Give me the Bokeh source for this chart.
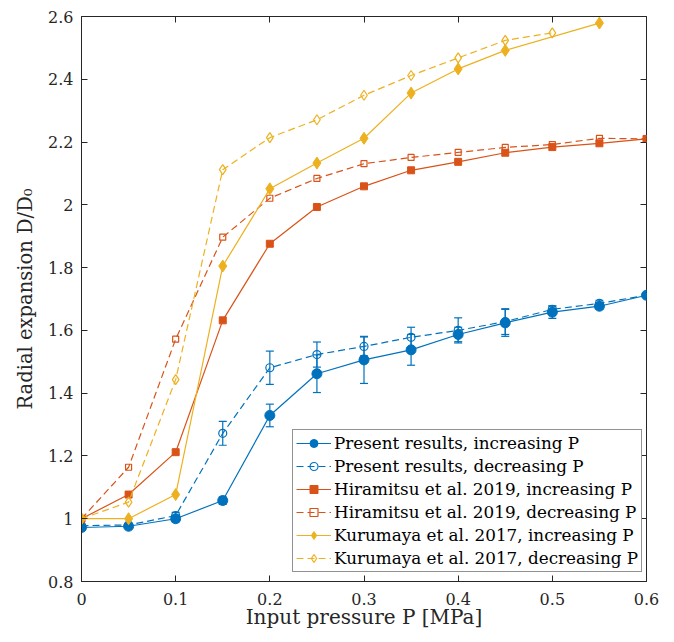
from bokeh.plotting import figure
from bokeh.models import Range1d, LinearAxis, FixedTicker, Legend, LegendItem, CustomJSTickFormatter
from bokeh.embed import file_html
from bokeh.resources import INLINE

# ---- data ----
P = [0, 0.05, 0.1, 0.15, 0.2, 0.25, 0.3, 0.35, 0.4, 0.45, 0.5, 0.55, 0.6]
present_inc = [0.972, 0.976, 1.000, 1.058, 1.329, 1.462, 1.506, 1.538, 1.587, 1.624, 1.658, 1.677, 1.712]
present_inc_err = [0.005, 0.005, 0.010, 0.012, 0.036, 0.060, 0.075, 0.049, 0.023, 0.043, 0.020, 0.010, 0.005]
present_dec = [0.978, 0.980, 1.010, 1.272, 1.481, 1.523, 1.549, 1.578, 1.600, 1.628, 1.667, 1.686, 1.712]
present_dec_err = [0.005, 0.005, 0.010, 0.038, 0.053, 0.040, 0.030, 0.032, 0.040, 0.041, 0.010, 0.010, 0.005]

hira_inc = [1.0, 1.077, 1.212, 1.632, 1.876, 1.993, 2.059, 2.110, 2.137, 2.166, 2.184, 2.196, 2.210]
hira_dec = [1.0, 1.164, 1.572, 1.897, 2.021, 2.084, 2.131, 2.151, 2.167, 2.183, 2.192, 2.212, 2.210]

kuru_inc_P = [0, 0.05, 0.1, 0.15, 0.2, 0.25, 0.3, 0.35, 0.4, 0.45, 0.55]
kuru_inc = [1.0, 1.0, 1.077, 1.805, 2.051, 2.133, 2.212, 2.356, 2.433, 2.492, 2.579]
kuru_dec_P = [0, 0.05, 0.1, 0.15, 0.2, 0.25, 0.3, 0.35, 0.4, 0.45, 0.5]
kuru_dec = [1.0, 1.053, 1.443, 2.112, 2.214, 2.271, 2.349, 2.412, 2.468, 2.524, 2.548]

x_ticks = [0, 0.1, 0.2, 0.3, 0.4, 0.5, 0.6]
x_tick_labels = ["0", "0.1", "0.2", "0.3", "0.4", "0.5", "0.6"]
y_ticks = [0.8, 1.0, 1.2, 1.4, 1.6, 1.8, 2.0, 2.2, 2.4, 2.6]
y_tick_labels = ["0.8", "1", "1.2", "1.4", "1.6", "1.8", "2", "2.2", "2.4", "2.6"]

labels = [
    "Present results, increasing P",
    "Present results, decreasing P",
    "Hiramitsu et al. 2019, increasing P",
    "Hiramitsu et al. 2019, decreasing P",
    "Kurumaya et al. 2017, increasing P",
    "Kurumaya et al. 2017, decreasing P",
]

BLUE = "#0072BD"
ORANGE = "#D95319"
YELLOW = "#EDB120"
AX = "#262626"
FONT = "DejaVu Serif"
DASH = "7 4"
LW = 1.2

p = figure(width=670, height=640, output_backend="svg", toolbar_location=None,
           x_range=Range1d(0, 0.6), y_range=Range1d(0.8, 2.6),
           min_border_left=81, min_border_right=24, min_border_top=16, min_border_bottom=59)
p.grid.visible = False
p.outline_line_color = AX
p.outline_line_width = 1
p.background_fill_color = "white"
p.border_fill_color = "white"

def style_axis(ax, ticks, lab):
    ax.ticker = FixedTicker(ticks=ticks)
    ax.major_label_overrides = {t: l for t, l in zip(ticks, lab)}
    ax.major_tick_in = 6
    ax.major_tick_out = 0
    ax.minor_tick_line_color = None
    ax.major_tick_line_color = AX
    ax.axis_line_color = AX
    ax.major_label_text_font = FONT
    ax.major_label_text_font_size = "16px"
    ax.major_label_text_color = AX
    ax.axis_label_text_font = FONT
    ax.axis_label_text_font_style = "normal"
    ax.axis_label_text_color = AX

style_axis(p.xaxis[0], x_ticks, x_tick_labels)
style_axis(p.yaxis[0], y_ticks, y_tick_labels)
p.xaxis[0].axis_label = "Input pressure P [MPa]"
p.yaxis[0].axis_label = "Radial expansion D/D\u2080"
p.xaxis[0].axis_label_text_font_size = "20px"
p.yaxis[0].axis_label_text_font_size = "19.5px"
p.xaxis[0].major_label_standoff = 11
p.yaxis[0].major_label_standoff = 8
p.xaxis[0].axis_label_standoff = -3
p.yaxis[0].axis_label_standoff = 8

blank = CustomJSTickFormatter(code="return ''")
top = LinearAxis(ticker=FixedTicker(ticks=x_ticks), formatter=blank, major_tick_in=6, major_tick_out=0,
                 minor_tick_line_color=None, major_tick_line_color=AX, axis_line_color=None,
                 major_label_text_font_size="0px")
right = LinearAxis(ticker=FixedTicker(ticks=y_ticks), formatter=blank, major_tick_in=6, major_tick_out=0,
                   minor_tick_line_color=None, major_tick_line_color=AX, axis_line_color=None,
                   major_label_text_font_size="0px")
p.add_layout(top, "above")
p.add_layout(right, "right")

# error bars
def errbars(x, y, e, color):
    lo = [a - b for a, b in zip(y, e)]
    hi = [a + b for a, b in zip(y, e)]
    p.segment(x0=x, y0=lo, x1=x, y1=hi, line_color=color, line_width=LW)
    p.scatter(x=x, y=lo, marker="dash", size=8, line_color=color, line_width=LW)
    p.scatter(x=x, y=hi, marker="dash", size=8, line_color=color, line_width=LW)

errbars(P, present_inc, present_inc_err, BLUE)
errbars(P, present_dec, present_dec_err, BLUE)

items = []
l1 = p.line(P, present_inc, line_color=BLUE, line_width=LW)
s1 = p.scatter(P, present_inc, marker="circle", size=10, fill_color=BLUE, line_color=BLUE)
items.append(LegendItem(label=labels[0], renderers=[l1, s1]))
l2 = p.line(P, present_dec, line_color=BLUE, line_width=LW, line_dash=DASH)
s2 = p.scatter(P, present_dec, marker="circle", size=8, fill_color=None, line_color=BLUE, line_width=LW)
items.append(LegendItem(label=labels[1], renderers=[l2, s2]))
l3 = p.line(P, hira_inc, line_color=ORANGE, line_width=LW)
s3 = p.scatter(P, hira_inc, marker="square", size=7, fill_color=ORANGE, line_color=ORANGE)
items.append(LegendItem(label=labels[2], renderers=[l3, s3]))
l4 = p.line(P, hira_dec, line_color=ORANGE, line_width=LW, line_dash=DASH)
s4 = p.scatter(P, hira_dec, marker="square", size=6, fill_color=None, line_color=ORANGE, line_width=LW)
items.append(LegendItem(label=labels[3], renderers=[l4, s4]))
l5 = p.line(kuru_inc_P, kuru_inc, line_color=YELLOW, line_width=LW)
s5 = p.scatter(kuru_inc_P, kuru_inc, marker="diamond", size=12, fill_color=YELLOW, line_color=YELLOW)
items.append(LegendItem(label=labels[4], renderers=[l5, s5]))
l6 = p.line(kuru_dec_P, kuru_dec, line_color=YELLOW, line_width=LW, line_dash=DASH)
s6 = p.scatter(kuru_dec_P, kuru_dec, marker="diamond", size=10, fill_color=None, line_color=YELLOW, line_width=LW)
items.append(LegendItem(label=labels[5], renderers=[l6, s6]))

legend = Legend(items=items, location=(211, 9))
legend.label_text_font = FONT
legend.label_text_font_size = "16.8px"
legend.label_text_color = "black"
legend.glyph_width = 35
legend.glyph_height = 20
legend.label_height = 20
legend.spacing = 3
legend.padding = 3
legend.margin = 0
legend.label_standoff = 3
legend.border_line_color = AX
legend.border_line_width = 1
legend.background_fill_alpha = 1
p.add_layout(legend, "center")

open("out.html", "w").write(file_html(p, INLINE))
